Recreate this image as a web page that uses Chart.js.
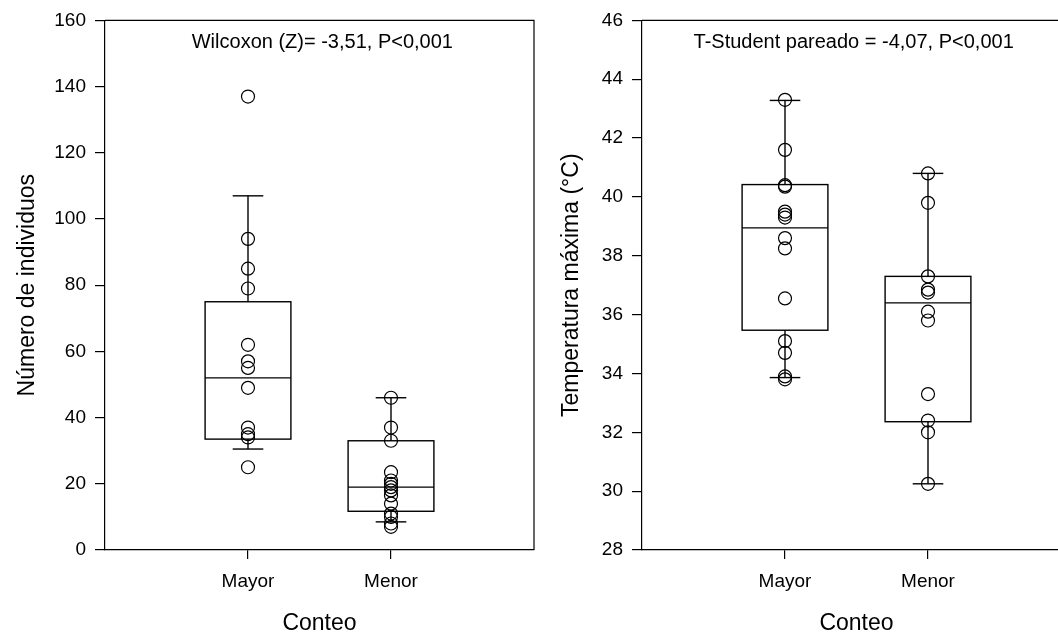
<!DOCTYPE html>
<html><head><meta charset="utf-8">
<script src="https://cdn.jsdelivr.net/npm/chart.js@4.4.1/dist/chart.umd.min.js"></script>
<style>
html,body{margin:0;padding:0;background:#fff;width:1058px;height:636px;overflow:hidden;position:relative}
#wl{position:absolute;left:0;top:0;width:545px;height:636px}
#wr{position:absolute;left:545px;top:0;width:545px;height:636px}
</style></head><body>
<div id="wl"><canvas id="c1"></canvas></div>
<div id="wr"><canvas id="c2"></canvas></div>
<script>
// ---- data ----
const categories = ['Mayor', 'Menor'];

const individuosMayor = [137, 94, 85, 79, 62, 57, 55, 49, 37, 35, 34, 25];
const individuosMenor = [46, 37, 33, 23.5, 21, 20, 19, 18, 16.5, 14, 11, 10, 8, 7];
const individuosQ1     = [33.5, 11.7];
const individuosMedian = [52, 19];
const individuosQ3     = [75, 33];
const individuosLow    = [30.5, 8.5];
const individuosHigh   = [107, 46];
const individuosTicks  = [0, 20, 40, 60, 80, 100, 120, 140, 160];

const tempMayor = [43.3, 41.6, 40.4, 40.35, 39.5, 39.4, 39.3, 38.6, 38.25, 36.55, 35.1, 34.7, 33.9, 33.8];
const tempMenor = [40.8, 39.8, 37.3, 36.85, 36.75, 36.1, 35.8, 33.3, 32.4, 32.0, 30.25];
const tempQ1     = [35.47, 32.36];
const tempMedian = [38.95, 36.4];
const tempQ3     = [40.42, 37.3];
const tempLow    = [33.86, 30.25];
const tempHigh   = [43.28, 40.8];
const tempTicks  = [28, 30, 32, 34, 36, 38, 40, 42, 44, 46];

// ---- rendering ----
Chart.defaults.font.family = "'Liberation Sans', Arial, sans-serif";
Chart.defaults.color = '#000';

function boxPlugin(q1, med, q3, lo, hi, note, noteX) {
  return {
    id: 'boxes',
    beforeDatasetsDraw(chart) {
      const {ctx, scales: {x, y}} = chart;
      ctx.save();
      ctx.strokeStyle = '#000';
      ctx.lineWidth = 1.4;
      const ln = (x1, y1, x2, y2) => { ctx.beginPath(); ctx.moveTo(x1, y1); ctx.lineTo(x2, y2); ctx.stroke(); };
      q1.forEach((_, i) => {
        const xc = x.getPixelForValue(i + 1);
        const hw = x.getPixelForValue(i + 1.3) - xc;
        const cw = x.getPixelForValue(i + 1.107) - xc;
        const p = v => y.getPixelForValue(v);
        ctx.strokeRect(xc - hw, p(q3[i]), 2 * hw, p(q1[i]) - p(q3[i]));
        ln(xc - hw, p(med[i]), xc + hw, p(med[i]));
        ln(xc, p(q3[i]), xc, p(hi[i]));
        ln(xc, p(q1[i]), xc, p(lo[i]));
        ln(xc - cw, p(hi[i]), xc + cw, p(hi[i]));
        ln(xc - cw, p(lo[i]), xc + cw, p(lo[i]));
      });
      ctx.restore();
    },
    afterDraw(chart) {
      const {ctx, scales: {x}, chartArea: ca} = chart;
      ctx.save();
      ctx.strokeStyle = '#000';
      ctx.lineWidth = 1.2;
      ctx.beginPath();
      ctx.moveTo(ca.left, ca.top); ctx.lineTo(ca.right, ca.top); ctx.lineTo(ca.right, ca.bottom);
      ctx.stroke();
      ctx.fillStyle = '#000';
      ctx.font = "20px 'Liberation Sans', Arial, sans-serif";
      ctx.textAlign = 'center';
      ctx.textBaseline = 'middle';
      ctx.fillText(note, x.getPixelForValue(noteX), ca.top + 22);
      ctx.restore();
    }
  };
}

function makeChart(id, seriesA, seriesB, ticks, yTitle, yWidth, padRight, yTitlePad, plugin) {
  const pt = {pointStyle: 'circle', pointRadius: 6.5, pointBorderWidth: 1.2,
              pointBorderColor: '#000', pointBackgroundColor: 'rgba(0,0,0,0)', showLine: false};
  return new Chart(document.getElementById(id), {
    type: 'scatter',
    data: {
      datasets: [
        Object.assign({label: categories[0], data: seriesA.map(v => ({x: 1, y: v}))}, pt),
        Object.assign({label: categories[1], data: seriesB.map(v => ({x: 2, y: v}))}, pt)
      ]
    },
    options: {
      responsive: true, maintainAspectRatio: false, animation: false,
      layout: {padding: {top: 17, right: padRight, left: 0, bottom: 0}},
      plugins: {legend: {display: false}, tooltip: {enabled: false}},
      scales: {
        x: {
          type: 'linear', min: 0, max: 3,
          afterBuildTicks: s => { s.ticks = categories.map((c, i) => ({value: i + 1})); },
          ticks: {callback: v => categories[v - 1], font: {size: 19}, padding: 11, autoSkip: false, maxRotation: 0, color: '#000'},
          grid: {drawOnChartArea: false, drawTicks: true, tickLength: 9, color: '#000', lineWidth: 1.2},
          border: {display: true, color: '#000', width: 1.2},
          title: {display: true, text: 'Conteo', color: '#000', font: {size: 23, lineHeight: 1}, padding: {top: 0, bottom: 1}},
          afterFit: s => { s.height = 86; }
        },
        y: {
          type: 'linear', min: ticks[0], max: ticks[ticks.length - 1],
          afterBuildTicks: s => { s.ticks = ticks.map(v => ({value: v})); },
          ticks: {font: {size: 19}, padding: 9, color: '#000'},
          grid: {drawOnChartArea: false, drawTicks: true, tickLength: 10, color: '#000', lineWidth: 1.2},
          border: {display: true, color: '#000', width: 1.2},
          title: {display: true, text: yTitle, color: '#000', font: {size: 23, lineHeight: 1}, padding: {top: yTitlePad, bottom: 0}},
          afterFit: s => { s.width = yWidth; }
        }
      }
    },
    plugins: [plugin]
  });
}

makeChart('c1', individuosMayor, individuosMenor, individuosTicks, 'Número de individuos', 105, 11, 16,
  boxPlugin(individuosQ1, individuosMedian, individuosQ3, individuosLow, individuosHigh,
            'Wilcoxon (Z)= -3,51, P<0,001', 1.52));
makeChart('c2', tempMayor, tempMenor, tempTicks, 'Temperatura máxima (°C)', 97, 19, 15,
  boxPlugin(tempQ1, tempMedian, tempQ3, tempLow, tempHigh,
            'T-Student pareado = -4,07, P<0,001', 1.48));
</script>
</body></html>
